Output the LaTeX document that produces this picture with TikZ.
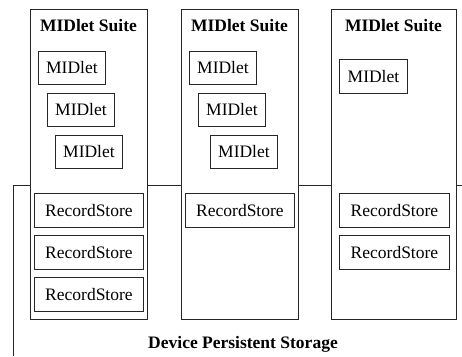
\documentclass[tikz,border=0pt]{standalone}
\usepackage{fontspec}
\setmainfont{Liberation Serif}
\begin{document}
\begin{tikzpicture}[x=1pt,y=-1pt,
  every node/.style={font=\fontsize{17.5}{21}\selectfont},
  line/.style={draw=black!85, line width=0.9pt},
  suite/.style={line, fill=white, inner sep=0pt, anchor=north west, minimum height=310pt},
  title/.style={font=\fontsize{17.5}{21}\selectfont\bfseries, inner sep=0pt},
  mbox/.style={line, fill=white, inner sep=0pt, anchor=north west, minimum height=33pt},
  midlet/.style={mbox, minimum width=67pt},
  rstore/.style={mbox, minimum width=109pt, minimum height=34pt}]
\useasboundingbox (0,0) rectangle (462,356);
% storage outline
\coordinate (s0) at (13,356);
\coordinate (s1) at (462,185);
\draw[line] (s0) |- (s1);
% suites
\node[suite, minimum width=117pt] (su1) at (30,9) {};
\node[suite, minimum width=117pt] (su2) at (181,9) {};
\node[suite, minimum width=125pt] (su3) at (331,9) {};
\node[title] (t1) at (88.5,26) {MIDlet Suite};
\node[title] (t2) at (239.5,26) {MIDlet Suite};
\node[title] (t3) at (393.5,26) {MIDlet Suite};
% midlets
\node[midlet] (m11) at (38,51) {MIDlet};
\node[midlet] (m12) at (47,93) {MIDlet};
\node[midlet] (m13) at (55,135) {MIDlet};
\node[midlet] (m21) at (189,51) {MIDlet};
\node[midlet] (m22) at (198,93) {MIDlet};
\node[midlet] (m23) at (210,135) {MIDlet};
\node[midlet, minimum width=68pt, minimum height=34pt] (m31) at (339,59) {MIDlet};
% record stores
\node[rstore] (r11) at (34,193) {RecordStore};
\node[rstore] (r12) at (34,235) {RecordStore};
\node[rstore] (r13) at (34,277) {RecordStore};
\node[rstore] (r21) at (185,193) {RecordStore};
\node[rstore, minimum width=110pt] (r31) at (339,193) {RecordStore};
\node[rstore, minimum width=110pt] (r32) at (339,235) {RecordStore};
% storage label
\node[title] (dps) at (243,344) {Device Persistent Storage};
\end{tikzpicture}
\end{document}
